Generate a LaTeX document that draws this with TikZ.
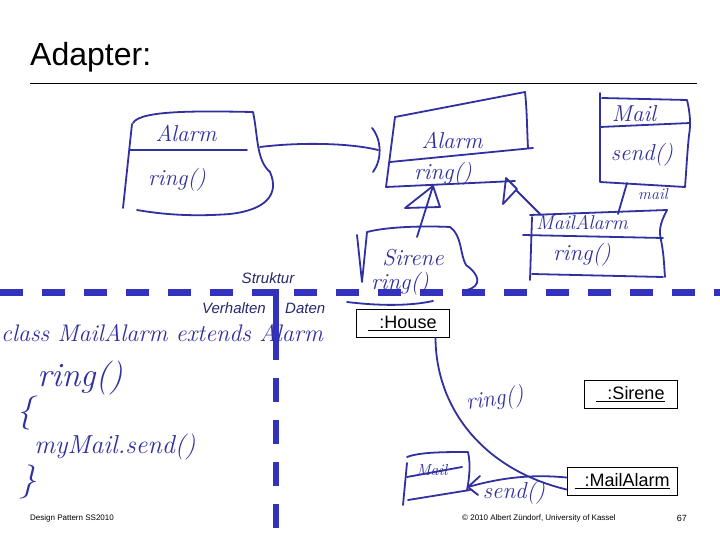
\documentclass[tikz,border=0pt]{standalone}
\usepackage{fontspec}
\newfontfamily\arialfont{Liberation Sans}
\definecolor{inkblue}{RGB}{48,48,160}
\definecolor{dashblue}{RGB}{50,50,190}
\definecolor{labelblue}{RGB}{40,40,110}
\tikzstyle{ink} = [
    draw=inkblue,
    line width=1.8pt,
    line cap=round,
    line join=round
]
\tikzstyle{hand} = [
    text=inkblue,
    inner sep=0pt,
    font=\fontsize{23}{23}\selectfont\itshape
]
\tikzstyle{bighand} = [
    hand,
    font=\fontsize{24}{24}\selectfont\itshape
]
\tikzstyle{object} = [
    rectangle,
    draw=black,
    line width=0.9pt,
    minimum height=28pt,
    inner sep=0pt,
    font=\arialfont\fontsize{18}{18}\selectfont
]
\tikzstyle{area} = [
    text=labelblue,
    inner sep=0pt,
    font=\arialfont\itshape\fontsize{15}{15}\selectfont
]
\tikzstyle{footer} = [
    inner sep=0pt,
    font=\arialfont\fontsize{8}{8}\selectfont
]
\tikzstyle{divider} = [draw=dashblue, line width=6.5pt]

\begin{document}
\begin{tikzpicture}[x=1pt,y=-1pt]

\path[fill=white, use as bounding box] (0,0) rectangle (720,540);

\node (title) [anchor=base west, inner sep=0pt,
    font=\arialfont\fontsize{32}{32}\selectfont] at (30,66) {Adapter:};
\draw[line width=0.8pt] (30,83) -- (697,83);

\draw[divider, dash pattern=on 23pt off 19pt] (0,292.5) -- (720,292.5);
\draw[divider, line width=6pt] (276,289) -- (276,360);
\draw[divider, line width=6pt, dash pattern=on 24pt off 18pt] (276,378) -- (276,540);

\node (struktur) [area] at (268,278) {Struktur};
\node (verhalten) [area, anchor=east] at (266,308) {Verhalten};
\node (daten) [area, anchor=west] at (285,308) {Daten};

\node (house) [object, minimum width=93pt] at (402.5,323.5)
{\underline{\hspace{11pt}:House}};
\node (sirene) [object, minimum width=93pt] at (630.5,394)
{\underline{\hspace{11pt}:Sirene}};
\node (mailalarm) [object, minimum width=110pt] at (622,481.5)
{\underline{\hspace{10pt}:MailAlarm}};

\node (course) [footer, anchor=west] at (30,518) {Design Pattern SS2010};
\node (copyright) [footer, anchor=west] at (462,518)
{© 2010 Albert Zündorf, University of Kassel};
\node (page) [footer, anchor=east, font=\arialfont\fontsize{9}{9}\selectfont] at (687,518) {67};

% class Alarm
\draw[ink] (133,123) .. controls (140,110) and (200,111) .. (253,112)
    .. controls (258,135) and (256,160) .. (270,172)
    .. controls (280,195) and (265,210) .. (230,214)
    .. controls (190,217) and (160,214) .. (137,210);
\draw[ink] (132,124) -- (123,208);
\draw[ink] (130,150) -- (247,150);
\node (alarm1) [hand] at (186,133) {Alarm};
\node (ring1) [hand] at (177,180) {ring()};

% class Alarm (adapted)
\draw[ink] (395,117) -- (525,92) .. controls (527,110) and (527,130) .. (528,148);
\draw[ink] (395,117) -- (386,187);
\draw[ink] (390,162) -- (533,148);
\draw[ink] (386,187) -- (515,181);
\draw[ink] (506,178) -- (503,204) -- (517,189) -- (506,178);
\node (alarm2) [hand] at (452,140) {Alarm};
\node (ring2) [hand] at (443,174) {ring()};

\coordinate (alarm1end) at (260,147);
\coordinate (alarm2end) at (378,150);
\draw[ink] (alarm1end) .. controls (300,142) and (350,143) .. (alarm2end);
\draw[ink] (372,128) .. controls (382,140) and (382,160) .. (373,172);

% class Sirene
\draw[ink] (357,235) -- (362,282) -- (367,232)
    .. controls (390,226) and (430,226) .. (450,227)
    .. controls (462,235) and (460,255) .. (466,265)
    .. controls (480,275) and (482,286) .. (467,290);
\draw[ink] (347,302) .. controls (380,306) and (410,306) .. (433,301);
\node (sirene1) [hand] at (413,258) {Sirene};
\node (ring3) [hand] at (400,284) {ring()};

\coordinate (sireneTop) at (417,237);
\coordinate (alarm2Bottom) at (433,186);
\draw[ink] (sireneTop) -- (alarm2Bottom);
\draw[ink] (433,186) -- (405,208) -- (440,207) -- cycle;

% class Mail
\draw[ink] (600,93) -- (600,182) -- (685,187);
\draw[ink] (602,98) -- (687,100) .. controls (690,112) and (691,125) .. (689,135)
    .. controls (687,155) and (686,175) .. (685,187);
\draw[ink] (600,127) -- (690,123);
\node (mail1) [hand] at (634,114) {Mail};
\node (send1) [hand] at (642,155) {send()};

% class MailAlarm
\draw[ink] (530,215) -- (667,210) .. controls (662,220) and (658,228) .. (661,240)
    .. controls (664,255) and (664,265) .. (665,277);
\draw[ink] (532,217) -- (530,280);
\draw[ink] (523,235) -- (663,238);
\draw[ink] (532,274) -- (663,277);
\node (mailalarm1) [hand, font=\fontsize{20}{20}\selectfont\itshape] at (582,222) {MailAlarm};
\node (ring4) [hand] at (582,255) {ring()};

\coordinate (genTip) at (516,190);
\coordinate (mailalarmCorner) at (540,214);
\draw[ink] (mailalarmCorner) -- (genTip);

\coordinate (mailBottom) at (627,183);
\coordinate (mailalarmTop) at (618,214);
\draw[ink] (mailBottom) -- (mailalarmTop);
\node (mailrole) [hand, font=\fontsize{16}{16}\selectfont\itshape] at (653,194) {mail};

% code
\node (classline) [bighand, anchor=west] at (1,333) {class MailAlarm extends Alarm};
\node (ring5) [bighand, font=\fontsize{34}{34}\selectfont\itshape] at (80,378) {ring()};
\node (open) [bighand, font=\fontsize{34}{34}\selectfont\itshape] at (25,413) {\{};
\node (sendcall) [bighand, font=\fontsize{26}{26}\selectfont\itshape] at (115,447) {myMail.send()};
\node (close) [bighand, font=\fontsize{34}{34}\selectfont\itshape] at (28,482) {\}};

% sequence
\draw[ink] ([xshift=33pt]house.south) .. controls (436,410) and (485,470) .. ([yshift=-8pt]mailalarm.west);
\node (ring6) [hand, rotate=8] at (495,400) {ring()};

\draw[ink] (407,457) .. controls (420,452) and (445,452) .. (468,452)
    .. controls (471,465) and (469,480) .. (467,490);
\draw[ink] (407,463) -- (403,505);
\draw[ink] (407,477) -- (462,467);
\draw[ink] (408,500) -- (470,490);
\node (mail2) [hand, font=\fontsize{16}{16}\selectfont\itshape] at (432,470) {Mail};

\draw[ink] ([yshift=4pt]mailalarm.west) .. controls (530,474) and (500,478) .. (468,487);
\draw[ink] (480,476) -- (468,487) -- (478,495);
\node (send2) [hand] at (514,493) {send()};

\end{tikzpicture}
\end{document}
